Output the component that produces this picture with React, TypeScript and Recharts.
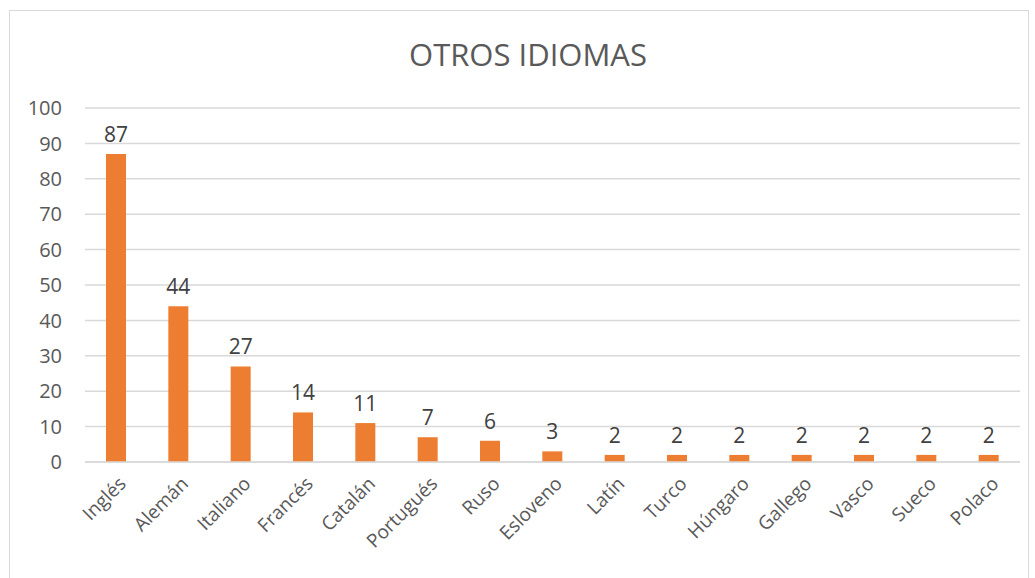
import { Bar, BarChart, CartesianGrid, LabelList, XAxis, YAxis } from 'recharts';

const languages = [
  'Inglés', 'Alemán', 'Italiano', 'Francés', 'Catalán', 'Portugués', 'Ruso', 'Esloveno',
  'Latín', 'Turco', 'Húngaro', 'Gallego', 'Vasco', 'Sueco', 'Polaco',
];
const counts = [87, 44, 27, 14, 11, 7, 6, 3, 2, 2, 2, 2, 2, 2, 2];
const yTicks = [0, 10, 20, 30, 40, 50, 60, 70, 80, 90, 100];

const data = languages.map((name, i) => ({ name, value: counts[i] }));

const FONT = '"Open Sans", "Liberation Sans", sans-serif';

function AngledTick({ x, y, payload }: any) {
  return (
    <g transform={`translate(${x + 6},${y + 10})`}>
      <text
        textAnchor="end"
        transform="rotate(-45)"
        dy={7}
        fontSize={19}
        fontFamily={FONT}
        fill="#595959"
      >
        {payload.value}
      </text>
    </g>
  );
}

export default function App() {
  return (
    <div style={{ position: 'absolute', left: 0, top: 0, width: 1035, height: 578, background: '#fff', overflow: 'hidden' }}>
      <div
        style={{
          position: 'absolute',
          left: 9,
          top: 10,
          width: 1020,
          height: 600,
          border: '1px solid #d9d9d9',
          boxSizing: 'border-box',
        }}
      />
      <div
        style={{
          position: 'absolute',
          left: 0,
          width: 1056,
          top: 33,
          textAlign: 'center',
          fontFamily: FONT,
          fontSize: 31,
          color: '#595959',
        }}
      >
        OTROS IDIOMAS
      </div>
      <div style={{ position: 'absolute', left: 0, top: 0 }}>
        <BarChart
          width={1035}
          height={578}
          data={data}
          margin={{ top: 108, right: 15, bottom: 0, left: 25 }}
          barCategoryGap={21}
        >
          <CartesianGrid vertical={false} stroke="#d9d9d9" strokeWidth={1.5} />
          <XAxis
            dataKey="name"
            interval={0}
            tickLine={false}
            axisLine={{ stroke: '#d9d9d9', strokeWidth: 1.5 }}
            height={116}
            tick={<AngledTick />}
          />
          <YAxis
            domain={[0, 100]}
            ticks={yTicks}
            width={60}
            axisLine={false}
            tickLine={false}
            tickSize={0}
            tickMargin={23}
            tick={{ fontSize: 20, fill: '#595959', fontFamily: FONT }}
          />
          <Bar dataKey="value" fill="#ED7D31" isAnimationActive={false}>
            <LabelList
              dataKey="value"
              position="top"
              offset={12}
              fontSize={21}
              fill="#404040"
              fontFamily={FONT}
            />
          </Bar>
        </BarChart>
      </div>
    </div>
  );
}
